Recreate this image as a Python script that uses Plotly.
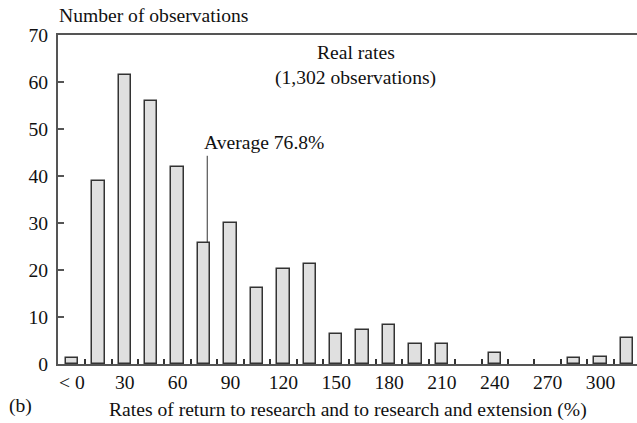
import plotly.graph_objects as go

# Histogram bins: "<0" first, then 15-point bins
bin_centers = [0, 15, 30, 45, 60, 75, 90, 105, 120, 135, 150, 165, 180, 195,
               210, 225, 240, 255, 270, 285, 300, 315]
counts = [1.3, 39, 61.5, 56, 42, 25.8, 30, 16.1, 20.2, 21.2, 6.3, 7.3, 8.2, 4.3,
          4.3, 0, 2.3, 0, 0, 1.3, 1.4, 5.5]
tick_vals = [0, 30, 60, 90, 120, 150, 180, 210, 240, 270, 300]
tick_text = ["< 0", "30", "60", "90", "120", "150", "180", "210", "240", "270", "300"]
bin_edges = [7.5 + 15 * i for i in range(21)]
average = 76.8
average_bar = 25.8
y_ticks = [0, 10, 20, 30, 40, 50, 60, 70]

FONT = "Liberation Serif, Times New Roman, serif"
AXIS = "#555555"

# empty bins are left blank rather than drawn as flat outlines
bar_x = [x for x, c in zip(bin_centers, counts) if c > 0]
bar_y = [c for c in counts if c > 0]

fig = go.Figure()
fig.add_trace(go.Bar(
    x=bar_x, y=bar_y, width=7,
    marker=dict(color="#e0e0e0", line=dict(color="#333333", width=1.5)),
    showlegend=False, hoverinfo="x+y",
))
# marker for the average rate
fig.add_trace(go.Scatter(
    x=[average, average], y=[average_bar, 44.3], mode="lines",
    line=dict(color="#333333", width=1), showlegend=False, hoverinfo="skip",
))

fig.update_layout(
    width=637, height=423,
    margin=dict(l=58, r=0, t=35, b=59),
    plot_bgcolor="white", paper_bgcolor="white",
    font=dict(family=FONT, size=19.6, color="#111111"),
    bargap=0,
    xaxis=dict(
        range=[-7.9, 320.7], showgrid=False, zeroline=False,
        showline=True, linecolor=AXIS, linewidth=2, mirror=True,
        tickmode="array", tickvals=tick_vals, ticktext=tick_text,
        ticks="", ticklabelstandoff=-1,
        minor=dict(tickmode="array", tickvals=bin_edges, ticks="inside",
                   ticklen=5, tickwidth=1.5, tickcolor="#333333", showgrid=False),
    ),
    yaxis=dict(
        range=[0, 70], showgrid=False, zeroline=False,
        showline=True, linecolor=AXIS, linewidth=2,
        tickmode="array", tickvals=y_ticks,
        ticks="inside", ticklen=6, tickwidth=1.5, tickcolor=AXIS,
        ticklabelstandoff=4,
    ),
    annotations=[
        dict(text="Number of observations", xref="paper", yref="paper",
             x=0.003, y=1, yshift=7, xshift=-3, xanchor="left", yanchor="bottom",
             showarrow=False),
        dict(text="Real rates", xref="x", yref="y", x=161, y=66.2,
             xanchor="center", yanchor="middle", showarrow=False),
        dict(text="(1,302 observations)", xref="x", yref="y", x=161, y=60.9,
             xanchor="center", yanchor="middle", showarrow=False),
        dict(text=f"Average {average}%", xref="x", yref="y", x=average, y=47.2,
             xshift=-5, xanchor="left", yanchor="middle", showarrow=False),
        dict(text="Rates of return to research and to research and extension (%)",
             xref="paper", yref="paper", x=0.5, y=-0.14,
             xanchor="center", yanchor="middle", showarrow=False),
        dict(text="(b)", xref="paper", yref="paper", x=-0.088, y=-0.127,
             xanchor="left", yanchor="middle", showarrow=False),
    ],
)

fig.write_html("out.html")
